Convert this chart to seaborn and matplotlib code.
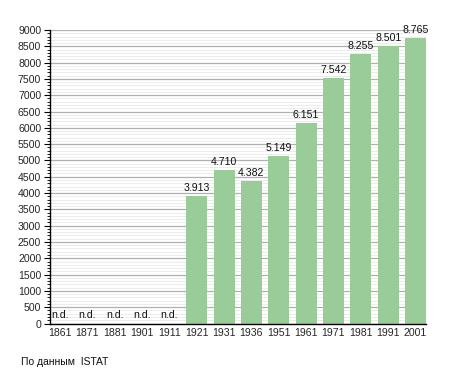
import matplotlib
matplotlib.use("Agg")
import matplotlib.pyplot as plt
import seaborn as sns
import pandas as pd
import numpy as np
from matplotlib.ticker import MultipleLocator

years = ["1861", "1871", "1881", "1901", "1911", "1921", "1931", "1936",
         "1951", "1961", "1971", "1981", "1991", "2001"]
population = [0, 0, 0, 0, 0, 3913, 4710, 4382, 5149, 6151, 7542, 8255, 8501, 8765]
labels = ["n.d.", "n.d.", "n.d.", "n.d.", "n.d.", "3.913", "4.710", "4.382",
          "5.149", "6.151", "7.542", "8.255", "8.501", "8.765"]
source_note = "По данным  ISTAT"

sns.set_style("white")
plt.rcParams['font.family'] = ['Liberation Sans', 'DejaVu Sans']

df = pd.DataFrame({"year": years, "pop": population})

fig = plt.figure(figsize=(4.55, 3.73), dpi=100)
ax = fig.add_axes([49.5/455, 1-323.5/373, (426-49.5)/455, (323.5-30)/373])

ax.set_axisbelow(True)
ax.yaxis.set_major_locator(MultipleLocator(500))
ax.yaxis.set_minor_locator(MultipleLocator(100))
ax.grid(which="minor", axis="y", color="#ececec", linewidth=0.7)
ax.grid(which="major", axis="y", color="#b0b0b0", linewidth=0.9)

sns.barplot(data=df, x="year", y="pop", color="#99cc99", saturation=1,
            width=0.77, ax=ax, edgecolor="none")

for i, (v, t) in enumerate(zip(population, labels)):
    if v > 0:
        ax.text(i, v + 90, t, ha="center", va="bottom", fontsize=7.6, color="#111111")
    else:
        ax.text(i, 100, t, ha="center", va="bottom", fontsize=7.6, color="#111111")

ax.set_ylim(0, 9000)
ax.set_xlim(-0.385, 13.385)
ax.set_xlabel("")
ax.set_ylabel("")
for s in ["top", "right"]:
    ax.spines[s].set_visible(False)
for s in ["left", "bottom"]:
    ax.spines[s].set_color("black")
    ax.spines[s].set_linewidth(1.0)

ax.tick_params(axis="y", which="major", length=4, width=0.8, color="black",
               labelsize=7.6, pad=2, left=True)
ax.tick_params(axis="y", which="minor", length=2, width=0.6, color="black", left=True)
ax.tick_params(axis="x", which="both", length=0, labelsize=7.6, pad=3)

fig.text(21/455, 1-362/373, source_note, fontsize=7.5, ha="left", va="center",
         color="#111111")

fig.savefig("out.png", dpi=100)
